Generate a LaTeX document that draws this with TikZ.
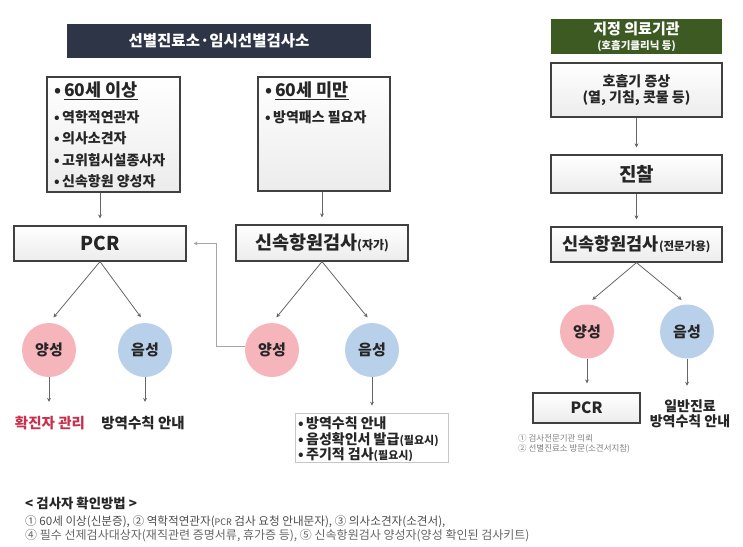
\documentclass[tikz,border=0pt]{standalone}
\usepackage{fontspec}
\setmainfont{Noto Sans CJK KR}
\usepackage{xcolor}
\usepackage{tikz}
\usetikzlibrary{arrows.meta, positioning}

\definecolor{headnavy}{HTML}{2D3546}
\definecolor{headgreen}{HTML}{3C5A22}
\definecolor{pospink}{HTML}{F5B5BA}
\definecolor{negblue}{HTML}{B8D0EA}
\definecolor{alertred}{HTML}{C8304C}
\definecolor{inkgray}{HTML}{262626}

\newcommand{\fsz}[1]{\fontsize{#1}{#1}\selectfont}

\begin{document}
\begin{tikzpicture}[x=1pt, y=-1pt,
    head_box/.style={rectangle, fill=#1, text=white, inner sep=0pt, align=center},
    flow_box/.style={rectangle, draw=black!75, line width=1.2pt, top color=white,
        bottom color=gray!15, inner sep=0pt, align=center, text=inkgray, font=\bfseries},
    res_circle/.style={circle, fill=#1, minimum size=54pt, inner sep=0pt,
        text=inkgray, font=\bfseries\fsz{15}},
    item_txt/.style={anchor=west, inner sep=0pt, text=inkgray, font=\bfseries\fsz{14}},
    flow_arrow/.style={-{Stealth[length=4pt, width=4pt]}, line width=0.8pt, black!60, shorten >=7pt},
    link_line/.style={-{Stealth[length=4pt, width=4pt]}, line width=0.7pt, black!35, shorten >=7pt}
  ]
  \useasboundingbox (0,0) rectangle (743,546);

  % Headers
  \node[head_box=headnavy, minimum width=304pt, minimum height=34pt, font=\bfseries\fsz{15.5}]
    (head_left) at (219,41) {선별진료소·임시선별검사소};
  \node[head_box=headgreen, minimum width=171pt, minimum height=35pt] (head_right) at (636.5,36.5)
    {\bfseries\fsz{15}지정 의료기관\\[3pt]\bfseries\fsz{10.5}(호흡기클리닉 등)};

  % Target groups
  \node[flow_box, minimum width=133pt, minimum height=115pt] (old_box) at (113.5,134.5) {};
  \node[item_txt, font=\bfseries\fsz{17.5}] (old_head) at (54,91) {•\,\underline{60세 이상}};
  \foreach \t [count=\i] in {역학적연관자, 의사소견자, 고위험시설종사자, 신속항원 양성자}
    \node[item_txt] (old_item\i) at (54, 95.5+21.5*\i) {•\,\t};

  \node[flow_box, minimum width=132pt, minimum height=114pt] (young_box) at (324,134) {};
  \node[item_txt, font=\bfseries\fsz{17.5}] (young_head) at (265,91) {•\,\underline{60세 미만}};
  \node[item_txt] (young_item) at (265,117) {•\,방역패스 필요자};

  % Tests
  \node[flow_box, minimum width=172pt, minimum height=35pt, font=\bfseries\fsz{19}]
    (pcr_left) at (100,243.5) {PCR};
  \node[flow_box, minimum width=172pt, minimum height=36pt]
    (rat_self) at (322,243) {\fsz{18.5}신속항원검사\fsz{12}(자가)};

  \draw[flow_arrow] (old_box.south -| pcr_left.north) -- (pcr_left.north);
  \draw[flow_arrow] (young_box.south -| rat_self.north) -- (rat_self.north);

  % Results
  \node[res_circle=pospink] (pos_a) at (49,350) {양성};
  \node[res_circle=negblue] (neg_a) at (145,350) {음성};
  \node[res_circle=pospink] (pos_b) at (272,350) {양성};
  \node[res_circle=negblue] (neg_b) at (372,350) {음성};

  \draw[flow_arrow] (pcr_left.south) -- (pos_a.north);
  \draw[flow_arrow] (pcr_left.south) -- (neg_a.north);
  \draw[flow_arrow] (rat_self.south) -- (pos_b.north);
  \draw[flow_arrow] (rat_self.south) -- (neg_b.north);

  % Positive self test goes to PCR
  \draw[link_line] ([yshift=4pt]pos_b.west) -- ++(-28,0) |- (pcr_left.east);

  % Follow-up
  \node[inner sep=0pt, font=\bfseries\fsz{14.5}, text=alertred] (confirm_txt) at (50,423) {확진자 관리};
  \node[inner sep=0pt, font=\bfseries\fsz{14.5}, text=inkgray] (guide_a) at (143,423) {방역수칙 안내};
  \draw[flow_arrow, shorten >=14pt] (pos_a.south) -- (confirm_txt.north -| pos_a.south);
  \draw[flow_arrow, shorten >=14pt] (neg_a.south) -- (guide_a.north -| neg_a.south);

  \node[rectangle, draw=gray!45, line width=0.6pt, fill=white, minimum width=153pt,
    minimum height=49pt] (neg_b_box) at (371.5,437.5) {};
  \node[item_txt, font=\bfseries\fsz{14}] (neg_item1) at (298,423) {•\,방역수칙 안내};
  \node[item_txt, font=\bfseries\fsz{14}] (neg_item2) at (298,439.5) {•\,음성확인서 발급{\fsz{11}(필요시)}};
  \node[item_txt, font=\bfseries\fsz{14}] (neg_item3) at (298,455) {•\,주기적 검사{\fsz{11}(필요시)}};
  \draw[flow_arrow] (neg_b.south) -- (neg_b_box.north -| neg_b.south);

  % Designated clinic
  \node[flow_box, minimum width=171pt, minimum height=54pt, font=\bfseries\fsz{14}]
    (symptom) at (636.5,90) {호흡기 증상\\[2pt](열, 기침, 콧물 등)};
  \node[flow_box, minimum width=171pt, minimum height=38pt, font=\bfseries\fsz{19}]
    (exam) at (636.5,174) {진찰};
  \node[flow_box, minimum width=171pt, minimum height=35pt]
    (rat_pro) at (636.5,244.5) {\fsz{17.5}신속항원검사\fsz{11.5}(전문가용)};

  \draw[flow_arrow] (symptom.south) -- (exam.north);
  \draw[flow_arrow] (exam.south) -- (rat_pro.north);

  \node[res_circle=pospink] (pos_c) at (587,331.5) {양성};
  \node[res_circle=negblue] (neg_c) at (687,331.5) {음성};
  \draw[flow_arrow] (rat_pro.south) -- (pos_c.north);
  \draw[flow_arrow] (rat_pro.south) -- (neg_c.north);

  \node[flow_box, minimum width=107pt, minimum height=30pt, font=\bfseries\fsz{15.5}]
    (pcr_right) at (586.5,408) {PCR};
  \node[inner sep=0pt, align=center, font=\bfseries\fsz{14}, text=inkgray]
    (general_txt) at (690,414) {일반진료\\[1pt]방역수칙 안내};
  \draw[flow_arrow, shorten >=9pt] (pos_c.south) -- (pcr_right.north -| pos_c.south);
  \draw[flow_arrow, shorten >=14pt] (neg_c.south) -- (general_txt.north -| neg_c.south);

  \node[anchor=west, inner sep=0pt, font=\fsz{8.5}, text=black!50] (note_1) at (518,438) {① 검사전문기관 의뢰};
  \node[anchor=west, inner sep=0pt, font=\fsz{8.5}, text=black!50] (note_2) at (518,449) {② 선별진료소 방문(소견서지참)};

  % Check method
  \node[anchor=west, inner sep=0pt, font=\bfseries\fsz{13.4}, text=inkgray] (check_head) at (25,503)
    {< 검사자 확인방법 >};
  \node[anchor=west, inner sep=0pt, font=\fsz{11.6}, text=black!70] (check_1) at (25,522)
    {① 60세 이상(신분증), ② 역학적연관자({\fsz{9}PCR} 검사 요청 안내문자), ③ 의사소견자(소견서),};
  \node[anchor=west, inner sep=0pt, font=\fsz{12}, text=black!60] (check_2) at (25,536)
    {④ 필수 선제검사대상자(재직관련 증명서류, 휴가증 등), ⑤ 신속항원검사 양성자(양성 확인된 검사키트)};

\end{tikzpicture}
\end{document}
